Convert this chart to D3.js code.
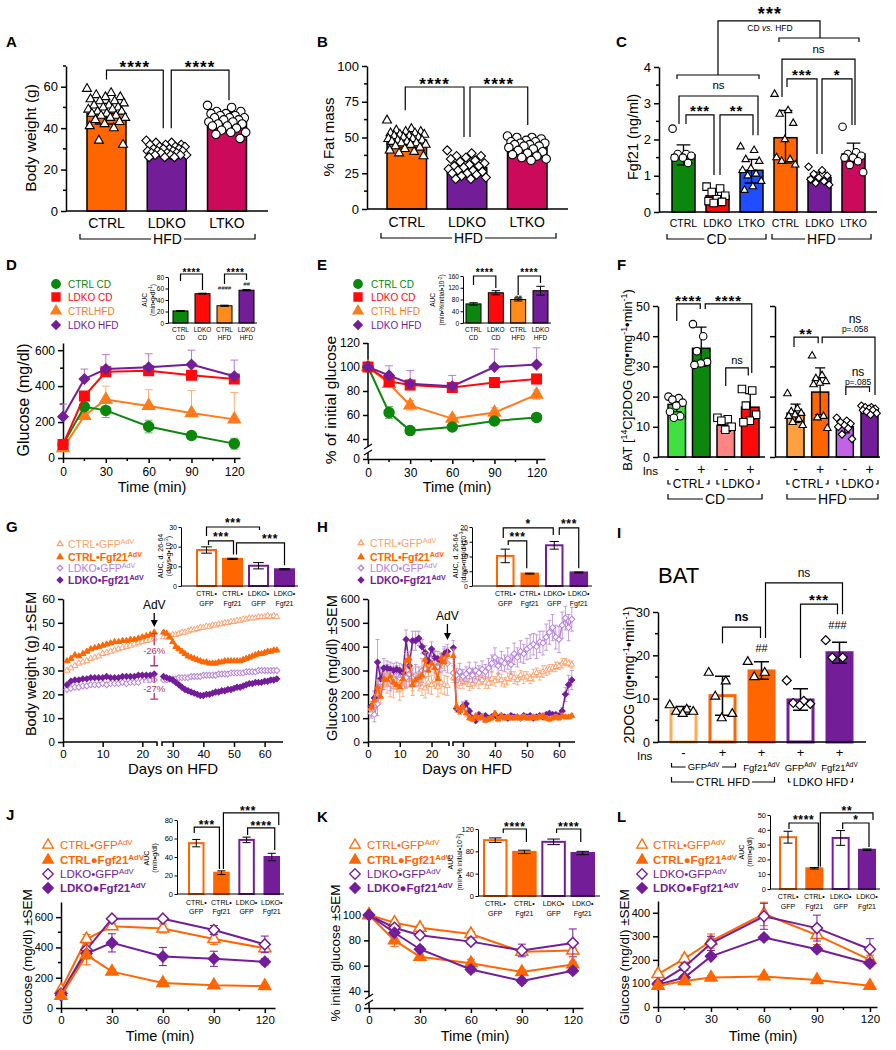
<!DOCTYPE html>
<html>
<head>
<meta charset="utf-8">
<script src="https://cdn.jsdelivr.net/npm/d3@7"></script>
<style>
  body { margin: 0; background: #fff; }
  svg { display: block; }
</style>
</head>
<body>
<svg id="fig" width="896" height="1050"></svg>
<script>
// ================= DATA =================
// A: body weight (g), HFD cohorts
const abGroups = ['CTRL', 'LDKO', 'LTKO'];
const bwMean = [47, 29, 43];
const bwSd = [5, 2.5, 4.5];
const bwCtrl = [59, 57, 56, 55, 55, 54, 53, 53, 52, 51, 51, 50, 50, 49, 49, 48, 48, 47, 47, 46, 46, 45, 45, 44, 43, 42, 41, 40, 34, 32];
const bwLdko = [34, 33, 33, 32, 32, 32, 31, 31, 31, 30, 30, 30, 30, 29, 29, 29, 29, 28, 28, 28, 28, 27, 27, 27, 27, 26, 26, 26];
const bwLtko = [51, 50, 48, 48, 47, 47, 46, 46, 45, 45, 45, 44, 44, 43, 43, 42, 42, 41, 41, 40, 39, 38, 38, 37, 35];
// B: % fat mass
const fatMean = [48, 29, 43];
const fatSd = [5, 6, 5];
const fatCtrl = [62, 56, 55, 54, 54, 53, 53, 52, 52, 51, 51, 50, 50, 49, 49, 48, 48, 47, 47, 46, 46, 45, 45, 44, 43, 42, 41, 40, 39, 37];
const fatLdko = [41, 39, 37, 37, 36, 35, 34, 33, 32, 31, 30, 30, 29, 28, 27, 27, 26, 25, 25, 24, 23, 22, 21, 21];
const fatLtko = [51, 50, 50, 49, 48, 47, 47, 46, 46, 45, 45, 44, 44, 43, 42, 41, 40, 39, 38, 37, 36, 35, 34];
// C: serum Fgf21 (ng/ml)
const cGroups = ['CTRL', 'LDKO', 'LTKO', 'CTRL', 'LDKO', 'LTKO'];
const fgfMean = [1.58, 0.45, 1.15, 2.05, 0.95, 1.6];
const fgfLo = [1.3, 0.3, 0.8, 1.35, 0.85, 1.35];
const fgfHi = [1.85, 0.6, 1.45, 2.8, 1.1, 1.9];
const fgfPts = [
  [2.3, 1.6, 1.6, 1.55, 1.5, 1.5, 1.35],
  [0.7, 0.65, 0.55, 0.45, 0.35, 0.3, 0.28, 0.25],
  [1.8, 1.7, 1.45, 1.4, 1.2, 1.15, 1.05, 1.0, 0.85, 0.7, 0.6],
  [3.25, 2.8, 2.7, 2.45, 2.0, 1.5, 1.45, 1.4, 1.3],
  [1.25, 1.15, 1.05, 1.0, 0.95, 0.9, 0.85, 0.8, 0.75],
  [2.35, 1.65, 1.6, 1.55, 1.5, 1.5, 1.4, 1.3, 1.1]
];
// D: GTT glucose (mg/dl)
const tolMin = [0, 15, 30, 60, 90, 120];
const gttCtrlCd = [75, 285, 265, 175, 125, 80];
const gttCtrlCdSem = [10, 15, 40, 35, 20, 30];
const gttLdkoCd = [75, 345, 480, 485, 460, 440];
const gttLdkoCdSem = [10, 15, 12, 10, 12, 12];
const gttCtrlHfd = [55, 235, 325, 290, 250, 215];
const gttCtrlHfdSem = [10, 20, 75, 90, 125, 150];
const gttLdkoHfd = [230, 440, 495, 505, 520, 455];
const gttLdkoHfdSem = [70, 55, 80, 75, 80, 90];
const deGroups = ['CTRL\nCD', 'LDKO\nCD', 'CTRL\nHFD', 'LDKO\nHFD'];
const gttAuc = [21, 51, 30, 57];
const gttAucSem = [0.6, 0.8, 1, 1];
// E: ITT % of initial glucose
const ittCtrlCd = [100, 62, 47, 50, 55, 58];
const ittCtrlCdSem = [1, 5, 2, 2, 2, 2];
const ittLdkoCd = [100, 88, 85, 83, 87, 90];
const ittLdkoCdSem = [2, 3, 4, 4, 4, 4];
const ittCtrlHfd = [100, 86, 68, 57, 62, 77];
const ittCtrlHfdSem = [2, 3, 4, 3, 4, 4];
const ittLdkoHfd = [100, 93, 86, 84, 100, 102];
const ittLdkoHfdSem = [2, 8, 11, 9, 15, 14];
const ittAuc = [65, 103, 80, 110];
const ittAucSem = [4, 7, 5, 15];
// F: BAT [14C]2DOG uptake
const batIns = ['-', '+', '-', '+', '-', '+', '-', '+'];
const batMean = [17.4, 36, 10.5, 16.5, 14.5, 21.5, 10, 16];
const batLo = [15, 30, 8.5, 12.5, 11.5, 14, 8, 15];
const batHi = [20, 43, 12.5, 21, 17.5, 29.5, 12, 17];
const batPts = [
  [20, 19.5, 19, 18, 17, 15, 13.5, 13],
  [44, 40, 35, 31.5, 31, 30.5],
  [13, 12.5, 12, 10, 9],
  [22.5, 22, 17, 14, 12, 11.5],
  [21, 16, 15, 14.5, 14, 13.5, 12.5, 11.5, 10.5],
  [33.5, 27, 26, 25, 24.5, 24, 13.5, 13, 9.5],
  [13, 12, 11.5, 11, 10.5, 10, 9.5, 7.5, 6],
  [17, 16.5, 16.5, 16, 16, 15.5, 15.5, 15, 14.5, 14]
];
// G: body weight on HFD, AdV at day ~23
const gDaysPre = [1, 2, 3, 4, 5, 6, 7, 8, 9, 10, 11, 12, 13, 14, 15, 16, 17, 18, 19, 20, 21, 22, 23];
const gDaysPost = [27, 28, 29, 30, 31, 32, 33, 34, 35, 36, 37, 38, 39, 40, 41, 42, 43, 44, 45, 46, 47, 48, 49, 50, 51, 52, 53, 54, 55, 56, 57, 58, 59, 60, 61, 62, 63, 64];
const gCtrlGfpPre = [30, 31, 32, 33, 33.5, 34, 35, 35.5, 36, 37, 37.5, 38, 38.5, 39, 39.5, 40, 40.5, 41, 41.5, 42, 42.5, 43, 43.5];
const gCtrlGfpPost = [44, 44, 44.5, 45, 45, 45.5, 46, 46, 46.5, 47, 47, 47.5, 48, 48, 48.5, 48.5, 49, 49, 49.5, 49.5, 50, 50, 50.5, 50.5, 51, 51, 51.5, 51.5, 52, 52, 52, 52.5, 52.5, 52.5, 53, 52.5, 53, 52.5];
const gCtrlFgfPre = [34, 35, 36.5, 36, 37, 38, 39, 39.5, 40, 40.5, 41, 41.5, 42, 42, 42.5, 42.5, 43, 43, 43.5, 44, 44.5, 45, 46];
const gCtrlFgfPost = [46, 45.5, 44, 42, 40, 39, 38, 37, 36, 35.5, 35, 34.5, 34, 33.5, 33.5, 33, 33, 33, 33.5, 33.5, 34, 34, 34, 34, 34, 34, 34.5, 35, 35.5, 36, 36.5, 37, 37, 37.5, 38, 38, 38.5, 38.5];
const gLdkoGfpPre = [22, 22.5, 23, 23, 23.5, 23.5, 24, 24, 24, 24.5, 24, 24.5, 24.5, 24.5, 25, 24.5, 25, 25, 25, 25.5, 25.5, 26, 26];
const gLdkoGfpPost = [26, 26, 26.5, 26.5, 26.5, 27, 27, 27, 27, 27.5, 27.5, 27.5, 27.5, 28, 28, 28, 28, 28, 28.5, 28.5, 28.5, 28.5, 29, 29, 29, 29, 29, 29.5, 29.5, 29.5, 29.5, 30, 30, 30, 30, 30, 30, 30];
const gLdkoFgfPre = [24, 25.5, 26, 26, 26.5, 26.5, 27, 27, 27, 27, 27.5, 27, 27, 27, 27.5, 27.5, 27.5, 27.5, 28, 28, 28, 28, 28.5];
const gLdkoFgfPost = [27.5, 27, 26.5, 26, 25, 24, 23, 22, 21.5, 21, 20.5, 20, 19.5, 19.5, 20, 20, 20.5, 21, 21, 21.5, 21.5, 22, 22, 22.5, 23, 23, 23.5, 24, 24.5, 24.5, 25, 25, 25, 25.5, 25.5, 26, 26, 26.5];
const aavGroups = ['CTRL•\nGFP', 'CTRL•\nFgf21', 'LDKO•\nGFP', 'LDKO•\nFgf21'];
const gAuc = [18.3, 13.8, 10.3, 8.5];
const gAucSem = [1.6, 0.3, 1.6, 0.3];
// H: glucose on HFD, AdV at day 25
const hDaysPre = [1, 2, 3, 4, 5, 6, 7, 8, 9, 10, 11, 12, 13, 14, 15, 16, 17, 18, 19, 20, 21, 22, 23, 24, 25];
const hDaysPost = [27, 28, 29, 30, 31, 32, 33, 34, 35, 36, 37, 38, 39, 40, 41, 42, 43, 44, 45, 46, 47, 48, 49, 50, 51, 52, 53, 54, 55, 56, 57, 58, 59, 60, 61, 62, 63, 64];
const hCtrlGfpPre = [140, 170, 200, 240, 270, 250, 240, 230, 250, 220, 230, 260, 270, 240, 275, 255, 230, 225, 250, 240, 260, 230, 250, 240, 235];
const hCtrlGfpPost = [270, 255, 245, 250, 260, 240, 245, 255, 250, 260, 250, 245, 265, 255, 270, 260, 250, 265, 275, 270, 260, 280, 270, 275, 265, 280, 290, 280, 295, 300, 305, 310, 315, 320, 330, 335, 330, 325];
const hCtrlGfpSemPre = [30, 40, 45, 50, 40, 45, 50, 45, 40, 45, 40, 35, 40, 45, 40, 40, 35, 40, 45, 40, 35, 40, 45, 40, 40];
const hCtrlGfpSemPost = [20, 25, 20, 25, 20, 25, 20, 20, 25, 20, 25, 20, 25, 20, 20, 25, 20, 25, 20, 25, 20, 20, 25, 20, 20, 25, 20, 20, 25, 20, 20, 15, 20, 15, 20, 15, 15, 15];
const hCtrlFgfPre = [145, 175, 230, 190, 265, 260, 275, 250, 240, 230, 265, 340, 350, 240, 260, 270, 280, 345, 300, 330, 310, 265, 350, 335, 365];
const hCtrlFgfPost = [360, 150, 130, 150, 120, 100, 95, 110, 100, 105, 90, 95, 100, 120, 95, 110, 100, 105, 100, 100, 105, 100, 105, 100, 100, 105, 100, 105, 110, 100, 95, 100, 105, 100, 110, 105, 105, 110];
const hCtrlFgfSemPre = [20, 25, 30, 30, 25, 25, 20, 25, 20, 20, 25, 30, 30, 25, 25, 20, 25, 30, 25, 25, 25, 20, 25, 25, 30];
const hCtrlFgfSemPost = [30, 15, 15, 20, 15, 10, 10, 10, 10, 10, 10, 10, 10, 10, 10, 10, 10, 10, 10, 10, 10, 10, 10, 10, 10, 10, 10, 10, 10, 10, 10, 10, 10, 10, 10, 10, 10, 10];
const hLdkoGfpPre = [120, 115, 160, 250, 270, 280, 265, 270, 280, 270, 280, 270, 285, 270, 280, 275, 300, 310, 320, 350, 335, 315, 330, 345, 330];
const hLdkoGfpPost = [290, 280, 295, 275, 285, 300, 280, 300, 290, 305, 295, 310, 330, 355, 320, 340, 330, 350, 325, 370, 355, 380, 370, 390, 400, 410, 400, 420, 415, 440, 460, 480, 440, 430, 490, 520, 480, 515];
const hLdkoGfpSemPre = [20, 30, 50, 60, 50, 45, 50, 45, 40, 40, 45, 40, 50, 40, 45, 40, 50, 40, 45, 40, 45, 40, 40, 45, 40];
const hLdkoGfpSemPost = [30, 30, 35, 30, 30, 35, 30, 35, 30, 35, 30, 40, 35, 40, 35, 40, 35, 45, 40, 45, 40, 45, 40, 45, 50, 45, 50, 45, 50, 55, 50, 55, 50, 55, 55, 50, 55, 50];
const hLdkoFgfPre = [150, 185, 335, 265, 310, 310, 305, 300, 305, 300, 290, 430, 320, 425, 425, 435, 400, 375, 340, 390, 355, 350, 340, 370, 380];
const hLdkoFgfPost = [395, 140, 130, 150, 160, 130, 100, 90, 115, 105, 110, 100, 105, 115, 100, 110, 105, 100, 110, 105, 105, 100, 110, 105, 110, 100, 105, 110, 105, 115, 120, 115, 115, 110, 130, 200, 240, 260];
const hLdkoFgfSemPre = [20, 30, 95, 50, 40, 30, 30, 30, 30, 30, 30, 40, 30, 40, 40, 30, 30, 30, 30, 30, 30, 30, 30, 30, 30];
const hLdkoFgfSemPost = [30, 15, 15, 15, 15, 10, 10, 10, 10, 10, 10, 10, 10, 10, 10, 10, 10, 10, 10, 10, 10, 10, 10, 10, 10, 10, 10, 10, 10, 10, 10, 10, 10, 10, 15, 30, 40, 40];
const hAuc = [10.2, 4.2, 13.8, 4.6];
const hAucSem = [2.3, 0.15, 1.3, 0.15];
// I: BAT 2DOG, HFD + AdV
const iIns = ['-', '+', '+', '+', '+'];
const iMean = [7.2, 10.7, 16.4, 9.7, 20.6];
const iLo = [6.4, 6.2, 14.5, 7.3, 18.2];
const iHi = [8.2, 15.2, 18.5, 12.3, 23];
const iPts = [
  [8.5, 7.5, 7, 7, 6.5],
  [16, 14, 10.5, 6.5, 5.5],
  [18.5, 16, 15],
  [14.2, 9.5, 9, 8.8, 8.5],
  [23.5, 19.5, 19.5]
];
// J: GTT after AdV
const jCtrlGfp = [120, 455, 540, 525, 455, 395];
const jCtrlGfpSem = [10, 30, 20, 30, 35, 25];
const jCtrlFgf = [80, 350, 240, 165, 150, 145];
const jCtrlFgfSem = [10, 65, 15, 15, 10, 10];
const jLdkoGfp = [95, 385, 590, 590, 515, 420];
const jLdkoGfpSem = [10, 20, 10, 10, 30, 55];
const jLdkoFgf = [85, 360, 430, 340, 325, 305];
const jLdkoFgfSem = [10, 20, 60, 60, 50, 20];
const jAuc = [55, 23, 58.5, 40];
const jAucSem = [4, 2, 3, 4];
// K: ITT after AdV
const kCtrlGfp = [100, 94, 90, 85, 71, 72];
const kCtrlGfpSem = [1, 2, 2, 2, 2, 2];
const kCtrlFgf = [100, 80, 67, 62, 55, 61];
const kCtrlFgfSem = [1, 5, 2, 3, 2, 2];
const kLdkoGfp = [100, 90, 84, 79, 72, 78];
const kLdkoGfpSem = [1, 2, 2, 2, 5, 11];
const kLdkoFgf = [100, 86, 73, 57, 48, 56];
const kLdkoFgfSem = [1, 2, 2, 2, 2, 2];
const kAuc = [100, 79, 97, 77];
const kAucSem = [4, 3, 5, 3];
// L: PTT after AdV
const lCtrlGfp = [140, 205, 280, 395, 305, 200];
const lCtrlGfpSem = [10, 15, 30, 50, 40, 20];
const lCtrlFgf = [90, 110, 125, 130, 115, 90];
const lCtrlFgfSem = [10, 8, 8, 8, 8, 8];
const lLdkoGfp = [100, 170, 270, 385, 335, 245];
const lLdkoGfpSem = [10, 15, 30, 55, 55, 45];
const lLdkoFgf = [95, 125, 215, 295, 245, 185];
const lLdkoFgfSem = [10, 10, 10, 10, 10, 10];
const lAuc = [35, 14, 34.5, 26.5];
const lAucSem = [4, 0.5, 5, 0.5];

// ================= STYLE =================
const FONT = '"Liberation Sans", Arial, Helvetica, sans-serif';
const ORANGE = '#ff6600', PURPLE = '#731d99', MAGENTA = '#cc0a5c', GREEN = '#0c860c',
      RED = '#ff0a0a', BLUE = '#1f4dff', LT_ORANGE = '#ffa06b', LT_PURPLE = '#b683d9',
      DE_ORANGE = '#ff7a1a', ANNOT = '#c0306a';

const svg = d3.select('#fig').attr('font-family', FONT);

// ================= HELPERS =================
function txt(x, y, s, o = {}) {
  const fs = o.fs || 12;
  const t = svg.append('text').attr('x', x).attr('y', y)
    .attr('font-size', fs)
    .attr('text-anchor', o.anchor || 'middle')
    .attr('fill', o.color || '#000');
  if (o.bold) t.attr('font-weight', 'bold');
  if (o.italic) t.attr('font-style', 'italic');
  if (o.ls) t.attr('letter-spacing', o.ls);
  if (o.rot) t.attr('transform', `rotate(${o.rot},${x},${y})`);
  let up = false;
  (Array.isArray(s) ? s : [s]).forEach(p => {
    const sup = Array.isArray(p);
    const ts = t.append('tspan').text(sup ? p[0] : p);
    if (sup) { ts.attr('font-size', fs * 0.68); if (!up) ts.attr('dy', -fs * 0.38); up = true; }
    else if (up) { ts.attr('dy', fs * 0.38); up = false; }
  });
  return t;
}
function ylab(cx, cy, s, fs, o = {}) {
  return txt(cx + fs * 0.35, cy, s, Object.assign({ fs, rot: -90 }, o));
}
function ln(d, o = {}) {
  return svg.append('path').attr('d', d).attr('fill', 'none')
    .attr('stroke', o.color || '#000').attr('stroke-width', o.sw || 1.3);
}
function letter(x, y, s) { txt(x, y, s, { fs: 15, bold: true, anchor: 'start' }); }

function band(n, left, right, bw) {
  const step = (right - left - bw) / (n - 1);
  return d3.scaleBand().domain(d3.range(n)).range([left, right]).paddingInner(1 - bw / step).paddingOuter(0);
}
const mid = (x, i) => x(i) + x.bandwidth() / 2;

function yAxis(y, x, ticks, o = {}) {
  const ts = o.ts || 5, sw = o.sw || 1.5;
  const g = svg.append('g').attr('transform', `translate(${x},0)`)
    .call(d3.axisLeft(y).tickValues(ticks).tickFormat(d => d).tickSize(ts).tickSizeOuter(0).tickPadding(o.pad || 3));
  g.attr('font-family', null).attr('font-size', null);
  g.selectAll('text').attr('font-size', o.fs || 12).attr('fill', '#000');
  g.selectAll('line').attr('stroke-width', sw);
  g.select('.domain').attr('stroke-width', sw);
  if (o.noDomain) g.select('.domain').remove();
  if (o.noText) g.selectAll('text').remove();
  (o.minor || []).forEach(v => g.append('line').attr('x1', -ts * 0.6).attr('x2', 0)
    .attr('y1', y(v)).attr('y2', y(v)).attr('stroke', '#000').attr('stroke-width', sw));
  return g;
}
function xAxis(x, y0, ticks, o = {}) {
  const ts = o.ts || 5, sw = o.sw || 1.5;
  const g = svg.append('g').attr('transform', `translate(0,${y0})`)
    .call(d3.axisBottom(x).tickValues(ticks).tickFormat(d => d).tickSize(ts).tickSizeOuter(0).tickPadding(o.pad || 3));
  g.attr('font-family', null).attr('font-size', null);
  g.selectAll('text').attr('font-size', o.fs || 12).attr('fill', '#000');
  g.selectAll('line').attr('stroke-width', sw);
  g.select('.domain').attr('stroke-width', sw);
  if (o.noDomain) g.select('.domain').remove();
  (o.minor || []).forEach(v => g.append('line').attr('y1', ts * 0.6).attr('y2', 0)
    .attr('x1', x(v)).attr('x2', x(v)).attr('stroke', '#000').attr('stroke-width', sw));
  return g;
}

function sym(cx, cy, shape, size, fill, stroke, sw) {
  let type = d3.symbolSquare, area = size * size, rot = '';
  if (shape === 'circle') { type = d3.symbolCircle; area = Math.PI * size * size / 4; }
  else if (shape === 'triangle') { type = d3.symbolTriangle; area = Math.sqrt(3) / 4 * size * size; }
  else if (shape === 'diamond') { area = size * size / 2; rot = ' rotate(45)'; }
  svg.append('path').attr('d', d3.symbol(type, area)())
    .attr('transform', `translate(${cx},${cy})${rot}`)
    .attr('fill', fill).attr('stroke', stroke).attr('stroke-width', sw);
}

function bars(x, y, means, fills, o = {}) {
  svg.append('g').selectAll('rect').data(means).join('rect')
    .attr('x', (d, i) => x(i)).attr('width', x.bandwidth())
    .attr('y', d => y(d)).attr('height', d => y(0) - y(d))
    .attr('fill', (d, i) => fills[i])
    .attr('stroke', (d, i) => o.strokes ? o.strokes[i] : '#000')
    .attr('stroke-width', o.sw || 1.5);
}
function errs(x, y, lo, hi, o = {}) {
  lo.forEach((l, i) => {
    const cx = mid(x, i), w = o.cap || x.bandwidth() * 0.3;
    ln(`M${cx},${y(l)}V${y(hi[i])}M${cx - w},${y(l)}H${cx + w}M${cx - w},${y(hi[i])}H${cx + w}`,
      { sw: o.sw || 1.3, color: o.color });
  });
}
function dots(x, y, i, vals, shape, size, o = {}) {
  const bw = x.bandwidth();
  vals.forEach((v, k) => {
    const off = (((k * 0.618034) % 1) - 0.5) * bw * (o.spread || 0.85);
    sym(mid(x, i) + off, y(v), shape, size, '#fff', '#000', o.sw || 1.1);
  });
}
// significance bracket: x in px, y in px
function sig(x1, b1, x2, b2, top, label, o = {}) {
  ln(`M${x1},${b1}V${top}H${x2}V${b2}`, { sw: o.sw || 1.2 });
  if (label) sigLabel(o.cx != null ? o.cx : (x1 + x2) / 2, o.cy != null ? o.cy : top - 7, label, o);
}
function sigLabel(cx, cy, label, o = {}) {
  const star = label[0] === '*';
  const fs = o.fs || (star ? 17 : 12);
  const base = star ? cy + fs * 0.57 : cy + fs * 0.26;
  txt(cx, base, label, { fs, bold: star || o.bold, ls: star ? fs * 0.06 : null });
}
function group(x1, x2, y, label, o = {}) {
  const fs = o.fs || 13, hook = o.hook || 5;
  const t = txt((x1 + x2) / 2, y + fs * 0.36, label, { fs });
  const bb = t.node().getBBox();
  ln(`M${x1},${y - hook}V${y}H${bb.x - 2}M${bb.x + bb.width + 2},${y}H${x2}V${y - hook}`, { sw: 1.2 });
}
function catLabels(x, labels, y1, y2, fs) {
  labels.forEach((l, i) => {
    const parts = l.split('\n');
    txt(mid(x, i), y1, parts[0], { fs });
    if (parts[1]) txt(mid(x, i), y2, parts[1], { fs });
  });
}
function curve(x, y, xs, vs, sem, col, shape, size, filled, o = {}) {
  if (sem) xs.forEach((t, i) => {
    const cx = x(t), a = y(vs[i] + sem[i]), b = y(vs[i] - (o.upOnly ? 0 : sem[i])), w = o.cap || 4;
    ln(`M${cx},${a}V${b}M${cx - w},${a}H${cx + w}` + (o.upOnly ? '' : `M${cx - w},${b}H${cx + w}`),
      { sw: o.esw || 1, color: o.errColor || col });
  });
  svg.append('path').datum(xs.map((t, i) => [t, vs[i]]))
    .attr('d', d3.line().x(d => x(d[0])).y(d => y(d[1])))
    .attr('fill', 'none').attr('stroke', col).attr('stroke-width', o.lw || 2);
  xs.forEach((t, i) => sym(x(t), y(vs[i]), shape, size, filled ? col : '#fff', col, o.msw || 1.5));
}
function tseries(x, y, dPre, dPost, vPre, vPost, sPre, sPost, col, shape, size, filled, o = {}) {
  const xs = dPre.concat(dPost), vs = vPre.concat(vPost);
  const ss = sPre ? sPre.concat(sPost) : null;
  if (ss) xs.forEach((d, i) => {
    const cx = x(d), a = y(vs[i] + ss[i]), b = y(vs[i] - ss[i]);
    ln(`M${cx},${a}V${b}M${cx - 2},${a}H${cx + 2}M${cx - 2},${b}H${cx + 2}`, { sw: 0.8, color: o.errColor || col });
  });
  [[dPre, vPre], [dPost, vPost]].forEach(([ds, vals]) => {
    svg.append('path').datum(ds.map((d, i) => [d, vals[i]]))
      .attr('d', d3.line().x(p => x(p[0])).y(p => y(p[1])))
      .attr('fill', 'none').attr('stroke', col).attr('stroke-width', o.lw || 1.5);
  });
  xs.forEach((d, i) => sym(x(d), y(vs[i]), shape, size, filled ? col : '#fff', col, o.msw || 1));
}
function legend(items, mx, tx, ys, fs, msize) {
  items.forEach((it, i) => {
    sym(mx, ys[i], it.shape, it.size || msize, it.filled ? it.color : '#fff', it.color, 1.3);
    txt(tx, ys[i] + fs * 0.36, it.label, { fs, anchor: 'start', color: it.color, bold: it.bold });
  });
}
function arrow(xp, y1, y2, label, fs) {
  txt(xp, y1 - 4, label, { fs });
  ln(`M${xp},${y1}V${y2 - 5}`, { sw: 1.3 });
  svg.append('path').attr('d', `M${xp - 3.5},${y2 - 7}L${xp + 3.5},${y2 - 7}L${xp},${y2}Z`).attr('fill', '#000');
}
// small AUC inset bar chart
function inset(cfg) {
  const y = d3.scaleLinear().domain(cfg.ydom).range(cfg.yrng);
  const x = band(cfg.vals.length, cfg.left, cfg.right, cfg.bw);
  bars(x, y, cfg.vals, cfg.fills, { strokes: cfg.strokes, sw: cfg.sw || 1 });
  errs(x, y, cfg.vals.map((v, i) => v - cfg.sem[i]), cfg.vals.map((v, i) => v + cfg.sem[i]), { sw: 1, cap: cfg.bw * 0.28 });
  yAxis(y, cfg.ax, cfg.ticks, { fs: cfg.fs, ts: 2.5, sw: 1, pad: 1.5 });
  ln(`M${cfg.ax},${cfg.yrng[0]}H${cfg.xend}`, { sw: 1 });
  catLabels(x, cfg.labels, cfg.ly1, cfg.ly2, cfg.lfs || cfg.fs);
  ylab(cfg.l1x, cfg.lcy, cfg.l1, cfg.lfs || cfg.fs);
  ylab(cfg.l2x, cfg.lcy, cfg.l2, cfg.lfs || cfg.fs);
  return { x, y };
}

// ================= A =================
(function () {
  letter(6, 47, 'A');
  const y = d3.scaleLinear().domain([0, 70]).range([211, 66]);
  const x = band(3, 87, 246.5, 39);
  bars(x, y, bwMean, [ORANGE, PURPLE, MAGENTA]);
  errs(x, y, bwMean.map((m, i) => m - bwSd[i]), bwMean.map((m, i) => m + bwSd[i]));
  dots(x, y, 0, bwCtrl, 'triangle', 9, { spread: 1 });
  dots(x, y, 1, bwLdko, 'diamond', 9, { spread: 1.05 });
  dots(x, y, 2, bwLtko, 'circle', 8.5, { spread: 1 });
  yAxis(y, 66, [0, 20, 40, 60], { fs: 13, minor: [10, 30, 50, 70] });
  ln('M66,211H268', { sw: 1.5 });
  abGroups.forEach((g, i) => txt(mid(x, i), 228, g, { fs: 14 }));
  group(80, 255, 239, 'HFD', { fs: 14 });
  ylab(31, 138, 'Body  weight (g)', 15.5);
  sig(mid(x, 0), y(63.5), mid(x, 1) - 3.5, y(40), y(68), '****');
  sig(mid(x, 1) + 4.5, y(40), mid(x, 2) + 2, y(53.5), y(68), '****');
})();

// ================= B =================
(function () {
  letter(317, 47, 'B');
  const y = d3.scaleLinear().domain([0, 100]).range([209, 66]);
  const x = band(3, 387, 547, 39.5);
  bars(x, y, fatMean, [ORANGE, PURPLE, MAGENTA]);
  errs(x, y, fatMean.map((m, i) => m - fatSd[i]), fatMean.map((m, i) => m + fatSd[i]));
  dots(x, y, 0, fatCtrl, 'triangle', 9, { spread: 1 });
  dots(x, y, 1, fatLdko, 'diamond', 9, { spread: 1 });
  dots(x, y, 2, fatLtko, 'circle', 8.5, { spread: 1 });
  yAxis(y, 367, [0, 25, 50, 75, 100], { fs: 13, minor: [12.5, 37.5, 62.5, 87.5] });
  ln('M367,209H568', { sw: 1.5 });
  abGroups.forEach((g, i) => txt(mid(x, i), 227, g, { fs: 14 }));
  group(381, 556, 238, 'HFD', { fs: 14 });
  ylab(329, 137, '% Fat mass', 15);
  sig(mid(x, 0) - 1.5, y(69), mid(x, 1) - 3, y(50.3), y(85.3), '****');
  sig(mid(x, 1) + 3, y(50.3), mid(x, 2) + 0.5, y(58.7), y(85.3), '****');
})();

// ================= C =================
(function () {
  letter(616, 47, 'C');
  const y = d3.scaleLinear().domain([0, 4]).range([212, 67]);
  const x = band(6, 672, 865, 23);
  bars(x, y, fgfMean, [GREEN, RED, BLUE, ORANGE, PURPLE, MAGENTA]);
  errs(x, y, fgfLo, fgfHi);
  const shapes = ['circle', 'square', 'triangle', 'triangle', 'diamond', 'circle'];
  fgfPts.forEach((p, i) => dots(x, y, i, p, shapes[i], 7.5, { spread: 0.95 }));
  yAxis(y, 659, [0, 1, 2, 3, 4], { fs: 13, minor: [0.5, 1.5, 2.5, 3.5] });
  ln('M659,212H877', { sw: 1.5 });
  cGroups.forEach((g, i) => txt(mid(x, i), 227, g, { fs: 10.5 }));
  group(667, 766, 239, 'CD', { fs: 14 });
  group(772, 871, 239, 'HFD', { fs: 14 });
  ylab(633, 137, 'Fgf21 (ng/ml)', 14.5);
  // CD comparisons
  sig(679, y(2.43), 758, y(2.12), y(3.2), 'ns', { fs: 11.5, cy: 86 });
  sig(686, y(2.43), 714, y(1.02), y(2.68), '***', { fs: 15, cy: 107 });
  sig(720, y(1.02), 753, y(2.12), y(2.68), '**', { fs: 15, cy: 107 });
  // HFD comparisons
  sig(782, y(3.17), 855, y(2.4), y(4.22), 'ns', { fs: 11.5, cy: 50 });
  sig(787, y(3.45), 817, y(1.6), y(3.67), '***', { fs: 15, cy: 71 });
  sig(822, y(1.6), 852, y(2.4), y(3.67), '*', { fs: 15, cy: 71 });
  // CD vs HFD
  ln(`M677,${y(3.67)}V${y(3.78)}H759V${y(3.67)}`, { sw: 1.2 });
  ln(`M779,${y(4.69)}V${y(4.8)}H859V${y(4.69)}`, { sw: 1.2 });
  ln(`M718,${y(3.78)}V${y(5.27)}H820V${y(4.8)}`, { sw: 1.2 });
  sigLabel(770, 10, '***', { fs: 18 });
  const t = txt(770, 31, 'CD ', { fs: 8.5 });
  t.append('tspan').attr('font-style', 'italic').text('vs.');
  t.append('tspan').text(' HFD');
})();

// ================= D =================
(function () {
  letter(6, 270, 'D');
  const x = d3.scaleLinear().domain([0, 124]).range([63, 240]);
  const y = d3.scaleLinear().domain([0, 640]).range([458, 343]);
  yAxis(y, 63, [0, 200, 400, 600], { fs: 12, minor: [100, 300, 500] });
  xAxis(x, 458, [0, 30, 60, 90, 120], { fs: 12, pad: 4, minor: [15, 45, 75, 105] });
  curve(x, y, tolMin, gttCtrlHfd, gttCtrlHfdSem, DE_ORANGE, 'triangle', 12, true, { upOnly: true, errColor: '#ffab73' });
  curve(x, y, tolMin, gttCtrlCd, gttCtrlCdSem, GREEN, 'circle', 10, true, { errColor: '#5fb85f' });
  curve(x, y, tolMin, gttLdkoCd, gttLdkoCdSem, RED, 'square', 9.5, true, { errColor: '#ff7070' });
  curve(x, y, tolMin, gttLdkoHfd, gttLdkoHfdSem, PURPLE, 'diamond', 10, true, { upOnly: true, errColor: '#b07fcf' });
  ylab(23, 400, 'Glucose (mg/dl)', 16);
  txt(152, 492, 'Time (min)', { fs: 14.5 });
  legend([
    { label: 'CTRL CD', color: GREEN, shape: 'circle', filled: true },
    { label: 'LDKO CD', color: RED, shape: 'square', filled: true, size: 8 },
    { label: 'CTRLHFD', color: DE_ORANGE, shape: 'triangle', filled: true, size: 10 },
    { label: 'LDKO HFD', color: PURPLE, shape: 'diamond', filled: true }
  ], 56, 68, [284, 297, 311, 325], 10, 8.5);
  const ins = inset({
    vals: gttAuc, sem: gttAucSem, fills: [GREEN, RED, '#ff8c1a', PURPLE], ydom: [0, 80], yrng: [323, 277],
    left: 173, right: 254, bw: 15, ax: 168, xend: 257, ticks: [0, 20, 40, 60, 80], fs: 6.5,
    labels: deGroups, ly1: 331.5, ly2: 339.5, l1: 'AUC', l2: ['(min•g•dl', ['-1'], ')'], l1x: 145, l2x: 152.5, lcy: 300
  });
  const ix = ins.x, iy = ins.y;
  sig(mid(ix, 0), iy(73), mid(ix, 1), iy(57.4), iy(85.2), '****', { fs: 10, cy: 270 });
  sig(mid(ix, 2), iy(67.8), mid(ix, 3), iy(74.8), iy(85.2), '****', { fs: 10, cy: 270 });
  txt(mid(ix, 2), 290, '####', { fs: 6, italic: true });
  txt(mid(ix, 3), 286, '##', { fs: 6, italic: true });
})();

// ================= E =================
(function () {
  letter(317, 270, 'E');
  const x = d3.scaleLinear().domain([0, 126]).range([368, 545]);
  const y = d3.scaleLinear().domain([0, 40, 120]).range([459, 439, 343]);
  yAxis(y, 368, [0, 40, 60, 80, 100, 120], { fs: 12, noDomain: true });
  ln(`M368,${y(0)}V${y(0) - 6}M368,${y(0) - 12}V${y(120)}`, { sw: 1.5 });
  ln(`M364,${y(0) - 4}L372,${y(0) - 9}M364,${y(0) - 10}L372,${y(0) - 15}`, { sw: 1.3 });
  xAxis(x, 459, [0, 30, 60, 90, 120], { fs: 12, pad: 4, minor: [15, 45, 75, 105] });
  curve(x, y, tolMin, ittCtrlHfd, ittCtrlHfdSem, DE_ORANGE, 'triangle', 12, true, { errColor: '#ffab73' });
  curve(x, y, tolMin, ittCtrlCd, ittCtrlCdSem, GREEN, 'circle', 10, true, { errColor: '#5fb85f' });
  curve(x, y, tolMin, ittLdkoCd, ittLdkoCdSem, RED, 'square', 9.5, true, { errColor: '#ff7070' });
  curve(x, y, tolMin, ittLdkoHfd, ittLdkoHfdSem, PURPLE, 'diamond', 10, true, { upOnly: true, errColor: '#b07fcf' });
  ylab(331, 400, '% of initial glucose', 15.5);
  txt(457, 492, 'Time (min)', { fs: 14.5 });
  legend([
    { label: 'CTRL CD', color: GREEN, shape: 'circle', filled: true },
    { label: 'LDKO CD', color: RED, shape: 'square', filled: true, size: 8 },
    { label: 'CTRL HFD', color: DE_ORANGE, shape: 'triangle', filled: true, size: 10 },
    { label: 'LDKO HFD', color: PURPLE, shape: 'diamond', filled: true }
  ], 358, 371, [284, 297, 311, 325], 10, 8.5);
  const ins = inset({
    vals: ittAuc, sem: ittAucSem, fills: [GREEN, RED, '#ff8c1a', PURPLE], ydom: [0, 160], yrng: [323, 276],
    left: 466, right: 548, bw: 15, ax: 463, xend: 551, ticks: [0, 40, 80, 120, 160], fs: 6.5,
    labels: deGroups, ly1: 331.5, ly2: 339.5, l1: 'AUC', l2: ['(min•%initial•10', ['-2'], ')'], l1x: 433, l2x: 442, lcy: 300
  });
  const ix = ins.x, iy = ins.y;
  sig(mid(ix, 0), iy(129), mid(ix, 1), iy(119), iy(160), '****', { fs: 10, cy: 270 });
  sig(mid(ix, 2), iy(95), mid(ix, 3), iy(136), iy(160), '****', { fs: 10, cy: 270 });
  txt(mid(ix, 2), 299, '##', { fs: 6, italic: true });
})();

// ================= F =================
(function () {
  letter(617, 270, 'F');
  const y = d3.scaleLinear().domain([0, 50]).range([457, 306]);
  const xl = band(4, 668, 759, 17.5), xr = band(4, 787, 878, 17);
  const fills = ['#3fe03f', GREEN, '#ff8585', RED, '#ffa040', ORANGE, '#c262e6', PURPLE];
  const shapes = ['circle', 'circle', 'square', 'square', 'triangle', 'triangle', 'diamond', 'diamond'];
  [xl, xr].forEach((x, h) => {
    const sl = d => d.slice(h * 4, h * 4 + 4);
    bars(x, y, sl(batMean), sl(fills));
    errs(x, y, sl(batLo), sl(batHi));
    sl(batPts).forEach((p, i) => dots(x, y, i, p, shapes[h * 4 + i], 7.5, { spread: 0.95 }));
    sl(batIns).forEach((s, i) => txt(mid(x, i), 474, s, { fs: 14 }));
  });
  yAxis(y, 658, [0, 10, 20, 30, 40, 50], { fs: 12.5 });
  yAxis(y, 775, [0, 10, 20, 30, 40, 50], { noText: true });
  ln('M658,457H765', { sw: 1.5 });
  ln('M775,457H880', { sw: 1.5 });
  txt(658, 475, 'Ins', { fs: 11.5, anchor: 'end' });
  group(668, 709, 484, 'CTRL', { fs: 12, hook: 4 });
  group(717, 759, 484, 'LDKO', { fs: 12, hook: 4 });
  group(787, 828, 484, 'CTRL', { fs: 12, hook: 4 });
  group(837, 878, 484, 'LDKO', { fs: 12, hook: 4 });
  group(668, 762, 499, 'CD', { fs: 14 });
  group(787, 878, 499, 'HFD', { fs: 14 });
  ylab(627, 380, ['BAT [', ['14'], 'C]2DOG (ng•mg', ['-1'], '•min', ['-1'], ')'], 13);
  sig(mid(xl, 0), y(45), mid(xl, 1) - 1, y(49), y(50.7), '****', { fs: 15, cy: 297 });
  sig(mid(xl, 1) + 4, y(49), mid(xl, 3) + 1.5, y(27.8), y(50.7), '****', { fs: 15, cy: 297 });
  sig(mid(xl, 2), y(23.5), mid(xl, 3) - 2, y(27), y(29.5), 'ns', { fs: 11, cy: 361 });
  sig(mid(xr, 0) - 1.5, y(36.4), mid(xr, 1) - 2, y(37.7), y(39.7), '**', { fs: 15, cy: 330 });
  sig(mid(xr, 1) + 2, y(37.7), mid(xr, 3) + 5.5, y(20.5), y(39.7), null);
  txt(855, 323, 'ns', { fs: 12 });
  txt(855, 332, 'p=.058', { fs: 8.5 });
  sig(mid(xr, 2) + 1, y(20.5), mid(xr, 3), y(21.5), y(23.2), null);
  txt(858, 376, 'ns', { fs: 12 });
  txt(858, 385, 'p=.085', { fs: 8.5 });
})();

// ================= G =================
(function () {
  letter(6, 532, 'G');
  const x = d3.scaleLinear().domain([0, 23.7, 26.5, 66]).range([63, 157, 162, 283]);
  const y = d3.scaleLinear().domain([0, 60]).range([742, 599]);
  yAxis(y, 63, [0, 10, 20, 30, 40, 50, 60], { fs: 11.5 });
  xAxis(x, 742, [0, 10, 20, 30, 40, 50, 60], { fs: 11.5, noDomain: true, pad: 3 });
  ln(`M63,742H${x(23.7)}V746M${x(26.5)},746V742H${x(66)}`, { sw: 1.5 });
  tseries(x, y, gDaysPre, gDaysPost, gCtrlGfpPre, gCtrlGfpPost, null, null, LT_ORANGE, 'triangle', 6, false);
  tseries(x, y, gDaysPre, gDaysPost, gLdkoGfpPre, gLdkoGfpPost, null, null, LT_PURPLE, 'diamond', 6, false);
  tseries(x, y, gDaysPre, gDaysPost, gCtrlFgfPre, gCtrlFgfPost, null, null, ORANGE, 'triangle', 6, true);
  tseries(x, y, gDaysPre, gDaysPost, gLdkoFgfPre, gLdkoFgfPost, null, null, PURPLE, 'diamond', 6, true);
  const ax = x(23);
  ln(`M${ax},${y(45.5)}V${y(32)}M${ax - 4},${y(32)}H${ax + 4}M${ax - 3},${y(45.5)}H${ax + 3}`, { sw: 1.3, color: ANNOT });
  svg.append('rect').attr('x', ax - 13).attr('y', y(38) - 6).attr('width', 26).attr('height', 10).attr('fill', '#fff');
  txt(ax, y(38) + 3, '-26%', { fs: 9.5, color: ANNOT });
  ln(`M${ax},${y(28)}V${y(18)}M${ax - 4},${y(18)}H${ax + 4}`, { sw: 1.3, color: ANNOT });
  svg.append('rect').attr('x', ax - 13).attr('y', y(22.3) - 6).attr('width', 26).attr('height', 10).attr('fill', '#fff');
  txt(ax, y(22.3) + 3, '-27%', { fs: 9.5, color: ANNOT });
  arrow(ax, 613, 627, 'AdV', 12);
  ylab(31, 664, 'Body weight (g) ±SEM', 14.5);
  txt(173, 774, 'Days on HFD', { fs: 15 });
  legend([
    { label: ['CTRL•GFP', ['AdV']], color: LT_ORANGE, shape: 'triangle', filled: false },
    { label: ['CTRL•Fgf21', ['AdV']], color: ORANGE, shape: 'triangle', filled: true, bold: true },
    { label: ['LDKO•GFP', ['AdV']], color: LT_PURPLE, shape: 'diamond', filled: false },
    { label: ['LDKO•Fgf21', ['AdV']], color: PURPLE, shape: 'diamond', filled: true, bold: true }
  ], 60, 68, [544, 557, 568, 580], 10.5, 5.5);
  const ins = inset({
    vals: gAuc, sem: gAucSem, fills: ['#fff', ORANGE, '#fff', PURPLE], strokes: [ORANGE, ORANGE, PURPLE, PURPLE], sw: 2,
    ydom: [0, 30], yrng: [586, 527], left: 197, right: 294, bw: 19, ax: 181, xend: 298, ticks: [0, 10, 20, 30], fs: 7,
    labels: aavGroups, ly1: 596, ly2: 605.5, lfs: 7, l1: 'AUC, d. 26-64', l2: ['(days•g•10', ['-2'], ')'], l1x: 161, l2x: 168.5, lcy: 556
  });
  const ix = ins.x, iy = ins.y;
  sig(mid(ix, 0), iy(25.4), mid(ix, 2) + 1, iy(28.5), iy(30), '***', { fs: 12, cy: 520 });
  sig(mid(ix, 0) + 2, iy(20.8), mid(ix, 1) + 1, iy(16), iy(22.9), '***', { fs: 12, cy: 534 });
  sig(mid(ix, 1) + 4, iy(16), mid(ix, 3), iy(10.5), iy(21.9), '***', { fs: 12, cy: 536, cx: 270 });
})();

// ================= H =================
(function () {
  letter(317, 532, 'H');
  const x = d3.scaleLinear().domain([0, 25.5, 26.9, 65]).range([368, 449, 453, 575]);
  const y = d3.scaleLinear().domain([0, 600]).range([742, 599]);
  yAxis(y, 368, [0, 100, 200, 300, 400, 500, 600], { fs: 11.5 });
  xAxis(x, 742, [0, 10, 20, 30, 40, 50, 60], { fs: 11.5, noDomain: true, pad: 3 });
  ln(`M368,742H${x(25.5)}V746M${x(26.9)},746V742H${x(65)}`, { sw: 1.5 });
  tseries(x, y, hDaysPre, hDaysPost, hCtrlGfpPre, hCtrlGfpPost, hCtrlGfpSemPre, hCtrlGfpSemPost, LT_ORANGE, 'triangle', 5.5, false);
  tseries(x, y, hDaysPre, hDaysPost, hLdkoGfpPre, hLdkoGfpPost, hLdkoGfpSemPre, hLdkoGfpSemPost, LT_PURPLE, 'diamond', 6, false);
  tseries(x, y, hDaysPre, hDaysPost, hLdkoFgfPre, hLdkoFgfPost, hLdkoFgfSemPre, hLdkoFgfSemPost, PURPLE, 'diamond', 6, true, { errColor: '#b58ad0' });
  tseries(x, y, hDaysPre, hDaysPost, hCtrlFgfPre, hCtrlFgfPost, hCtrlFgfSemPre, hCtrlFgfSemPost, ORANGE, 'triangle', 5.5, true, { errColor: '#ffa36b' });
  arrow(x(25), 624, 640, 'AdV', 12);
  ylab(332, 668, 'Glucose (mg/dl) ±SEM', 14.5);
  txt(467, 774, 'Days on HFD', { fs: 15 });
  legend([
    { label: ['CTRL•GFP', ['AdV']], color: LT_ORANGE, shape: 'triangle', filled: false },
    { label: ['CTRL•Fgf21', ['AdV']], color: ORANGE, shape: 'triangle', filled: true, bold: true },
    { label: ['LDKO•GFP', ['AdV']], color: LT_PURPLE, shape: 'diamond', filled: false },
    { label: ['LDKO•Fgf21', ['AdV']], color: PURPLE, shape: 'diamond', filled: true, bold: true }
  ], 361, 370, [543, 557, 568, 580], 10.5, 5.5);
  const ins = inset({
    vals: hAuc, sem: hAucSem, fills: ['#fff', ORANGE, '#fff', PURPLE], strokes: [ORANGE, ORANGE, PURPLE, PURPLE], sw: 2,
    ydom: [0, 20], yrng: [586, 527], left: 497, right: 587, bw: 16.5, ax: 472, xend: 592, ticks: [0, 5, 10, 15, 20], fs: 7,
    labels: aavGroups, ly1: 596, ly2: 605.5, lfs: 7, l1: 'AUC, d. 26-64', l2: ['(days•mg/dl•10', ['-3'], ')'], l1x: 456, l2x: 463.5, lcy: 556
  });
  const ix = ins.x, iy = ins.y;
  sig(mid(ix, 0) - 2, iy(16.3), mid(ix, 2) - 1, iy(17.3), iy(19.7), '*', { fs: 12, cy: 521 });
  sig(mid(ix, 0) + 3, iy(13.9), mid(ix, 1) - 3, iy(6), iy(15.3), '***', { fs: 12, cy: 534 });
  sig(mid(ix, 2) + 5, iy(17.3), mid(ix, 3), iy(6), iy(19.7), '***', { fs: 12, cy: 521 });
})();

// ================= I =================
(function () {
  letter(617, 538, 'I');
  txt(658, 583, 'BAT', { fs: 22, anchor: 'start' });
  const y = d3.scaleLinear().domain([0, 30]).range([742, 612]);
  const x = band(5, 671, 852, 25);
  bars(x, y, iMean, ['#fff', '#fff', ORANGE, '#fff', PURPLE], { strokes: ['#ffaa55', ORANGE, ORANGE, PURPLE, PURPLE], sw: 3 });
  errs(x, y, iLo, iHi, { sw: 1.5 });
  const shapes = ['triangle', 'triangle', 'triangle', 'diamond', 'diamond'];
  iPts.forEach((p, i) => dots(x, y, i, p, shapes[i], 9, { spread: 1.1, sw: 1.2 }));
  yAxis(y, 658, [0, 10, 20, 30], { fs: 12.5, minor: [5, 15, 25] });
  ln('M658,742H866', { sw: 1.5 });
  txt(637, 760, 'Ins', { fs: 11.5, anchor: 'start' });
  iIns.forEach((s, i) => txt(mid(x, i), 757, s, { fs: 13 }));
  group(mid(x, 0) - 12, mid(x, 1) + 13, 767, ['GFP', ['AdV']], { fs: 9.5, hook: 4 });
  txt(mid(x, 2), 771, ['Fgf21', ['AdV']], { fs: 9.5 });
  txt(mid(x, 3), 771, ['GFP', ['AdV']], { fs: 9.5 });
  txt(mid(x, 4), 771, ['Fgf21', ['AdV']], { fs: 9.5 });
  group(mid(x, 0) - 12, mid(x, 2) + 13, 782, 'CTRL HFD', { fs: 11 });
  group(mid(x, 3) - 12, mid(x, 4) + 13, 782, 'LDKO HFD', { fs: 11, hook: 4 });
  ylab(629, 675, ['2DOG (ng•mg', ['-1'], '•min', ['-1'], ')'], 14);
  sig(mid(x, 1), y(22.8), mid(x, 2) - 1, y(24), y(26.5), 'ns', { fs: 12, bold: true, cy: 618 });
  sig(mid(x, 3), y(19.4), mid(x, 4) - 2, y(29.5), y(31.8), '***', { fs: 15, cy: 596 });
  sig(mid(x, 2) + 4, y(24), mid(x, 4) + 3, y(29.5), y(36.7), 'ns', { fs: 12, cy: 574 });
  txt(mid(x, 2), 652, '##', { fs: 11 });
  txt(mid(x, 4) - 2, 629, '###', { fs: 11 });
})();

// ================= J / K / L =================
const aavLegend = (mx, tx) => legend([
  { label: ['CTRL•GFP', ['AdV']], color: ORANGE, shape: 'triangle', filled: false },
  { label: ['CTRL●Fgf21', ['AdV']], color: ORANGE, shape: 'triangle', filled: true, bold: true },
  { label: ['LDKO•GFP', ['AdV']], color: PURPLE, shape: 'diamond', filled: false },
  { label: ['LDKO●Fgf21', ['AdV']], color: PURPLE, shape: 'diamond', filled: true, bold: true }
], mx, tx, [845, 860, 874, 888], 11.5, 10.5);

(function () {
  letter(6, 820, 'J');
  const x = d3.scaleLinear().domain([0, 126]).range([61, 275]);
  const y = d3.scaleLinear().domain([0, 700]).range([1008, 902]);
  yAxis(y, 61, [0, 200, 400, 600], { fs: 11, minor: [100, 300, 500] });
  xAxis(x, 1008, [0, 30, 60, 90, 120], { fs: 11.5, pad: 3, minor: [15, 45, 75, 105] });
  curve(x, y, tolMin, jCtrlGfp, jCtrlGfpSem, ORANGE, 'triangle', 12, false);
  curve(x, y, tolMin, jLdkoGfp, jLdkoGfpSem, PURPLE, 'diamond', 11, false);
  curve(x, y, tolMin, jLdkoFgf, jLdkoFgfSem, PURPLE, 'diamond', 11, true);
  curve(x, y, tolMin, jCtrlFgf, jCtrlFgfSem, ORANGE, 'triangle', 12, true);
  ylab(27, 957, 'Glucose (mg/dl) ±SEM', 13.5);
  txt(160, 1041, 'Time (min)', { fs: 14.5 });
  aavLegend(48, 60);
  const ins = inset({
    vals: jAuc, sem: jAucSem, fills: ['#fff', ORANGE, '#fff', PURPLE], strokes: [ORANGE, ORANGE, PURPLE, PURPLE], sw: 2,
    ydom: [0, 80], yrng: [894, 820], left: 189, right: 279, bw: 14.5, ax: 177, xend: 284, ticks: [0, 20, 40, 60, 80], fs: 7.5,
    labels: aavGroups, ly1: 904.5, ly2: 913.5, lfs: 7, l1: 'AUC', l2: '(min•g/dl)', l1x: 147, l2x: 155, lcy: 858
  });
  const ix = ins.x, iy = ins.y;
  sig(mid(ix, 0) - 2, iy(66), mid(ix, 1) - 2, iy(27), iy(72.4), '***', { fs: 12, cy: 822 });
  sig(mid(ix, 1) + 2, iy(27), mid(ix, 3) + 7, iy(74.6), iy(87.6), '***', { fs: 12, cy: 808, cx: 248 });
  sig(mid(ix, 2) + 1, iy(63.8), mid(ix, 3) + 3, iy(47.6), iy(71.4), '****', { fs: 12, cy: 823 });
})();

(function () {
  letter(317, 822, 'K');
  const x = d3.scaleLinear().domain([0, 126]).range([369, 583]);
  const y = d3.scaleLinear().domain([0, 40, 105]).range([1008, 991, 908.7]);
  yAxis(y, 369, [0, 40, 60, 80, 100], { fs: 11, noDomain: true });
  ln(`M369,${y(0)}V${y(0) - 5}M369,${y(0) - 11}V${y(105)}`, { sw: 1.5 });
  ln(`M365,${y(0) - 3}L373,${y(0) - 8}M365,${y(0) - 9}L373,${y(0) - 14}`, { sw: 1.3 });
  xAxis(x, 1008, [0, 30, 60, 90, 120], { fs: 11.5, pad: 3, minor: [15, 45, 75, 105] });
  curve(x, y, tolMin, kCtrlGfp, kCtrlGfpSem, ORANGE, 'triangle', 12, false);
  curve(x, y, tolMin, kLdkoGfp, kLdkoGfpSem, PURPLE, 'diamond', 11, false);
  curve(x, y, tolMin, kCtrlFgf, kCtrlFgfSem, ORANGE, 'triangle', 12, true);
  curve(x, y, tolMin, kLdkoFgf, kLdkoFgfSem, PURPLE, 'diamond', 11, true);
  ylab(335, 953, '% initial glucose ±SEM', 13.5);
  txt(475, 1041, 'Time (min)', { fs: 14.5 });
  aavLegend(355, 367);
  const ins = inset({
    vals: kAuc, sem: kAucSem, fills: ['#fff', ORANGE, '#fff', PURPLE], strokes: [ORANGE, ORANGE, PURPLE, PURPLE], sw: 2,
    ydom: [0, 120], yrng: [896, 829], left: 484, right: 594, bw: 22.5, ax: 478, xend: 600, ticks: [0, 40, 80, 120], fs: 7.5,
    labels: aavGroups, ly1: 906, ly2: 915.5, lfs: 7, l1: 'AUC', l2: ['(min•% initial•10', ['-2'], ')'], l1x: 451, l2x: 460, lcy: 862
  });
  const ix = ins.x, iy = ins.y;
  sig(mid(ix, 0) + 8, iy(112.9), mid(ix, 1) + 2, iy(96.8), iy(120), '****', { fs: 12, cy: 824 });
  sig(mid(ix, 2) + 3, iy(112.9), mid(ix, 3) - 2, iy(96.8), iy(120), '****', { fs: 12, cy: 824 });
})();

(function () {
  letter(617, 822, 'L');
  const x = d3.scaleLinear().domain([0, 124]).range([658, 877]);
  const y = d3.scaleLinear().domain([0, 450]).range([1007, 901]);
  yAxis(y, 658, [0, 100, 200, 300, 400], { fs: 11 });
  xAxis(x, 1007, [0, 30, 60, 90, 120], { fs: 11.5, pad: 3, minor: [15, 45, 75, 105] });
  curve(x, y, tolMin, lCtrlGfp, lCtrlGfpSem, ORANGE, 'triangle', 12, false);
  curve(x, y, tolMin, lLdkoGfp, lLdkoGfpSem, PURPLE, 'diamond', 11, false);
  curve(x, y, tolMin, lLdkoFgf, lLdkoFgfSem, PURPLE, 'diamond', 11, true);
  curve(x, y, tolMin, lCtrlFgf, lCtrlFgfSem, ORANGE, 'triangle', 12, true);
  ylab(624, 957, 'Glucose (mg/dl) ±SEM', 13.5);
  txt(763, 1041, 'Time (min)', { fs: 14.5 });
  aavLegend(642, 653);
  const ins = inset({
    vals: lAuc, sem: lAucSem, fills: ['#fff', ORANGE, '#fff', PURPLE], strokes: [ORANGE, ORANGE, PURPLE, PURPLE], sw: 2,
    ydom: [0, 50], yrng: [889, 815], left: 780, right: 875, bw: 16, ax: 770, xend: 880, ticks: [0, 10, 20, 30, 40, 50], fs: 7.5,
    labels: aavGroups, ly1: 899, ly2: 908.5, lfs: 7, l1: 'AUC', l2: '(min•g/dl)', l1x: 742, l2x: 750, lcy: 852
  });
  const ix = ins.x, iy = ins.y;
  sig(mid(ix, 0) + 1, iy(40.5), mid(ix, 1) + 4, iy(15), iy(44.6), '****', { fs: 12, cy: 817 });
  sig(mid(ix, 1) + 6, iy(15), mid(ix, 3) + 6, iy(46.6), iy(51.4), '**', { fs: 12, cy: 808, cx: 847 });
  sig(mid(ix, 2) + 2, iy(40.5), mid(ix, 3) + 2, iy(28.4), iy(44.6), '*', { fs: 12, cy: 817 });
})();
</script>
</body>
</html>
